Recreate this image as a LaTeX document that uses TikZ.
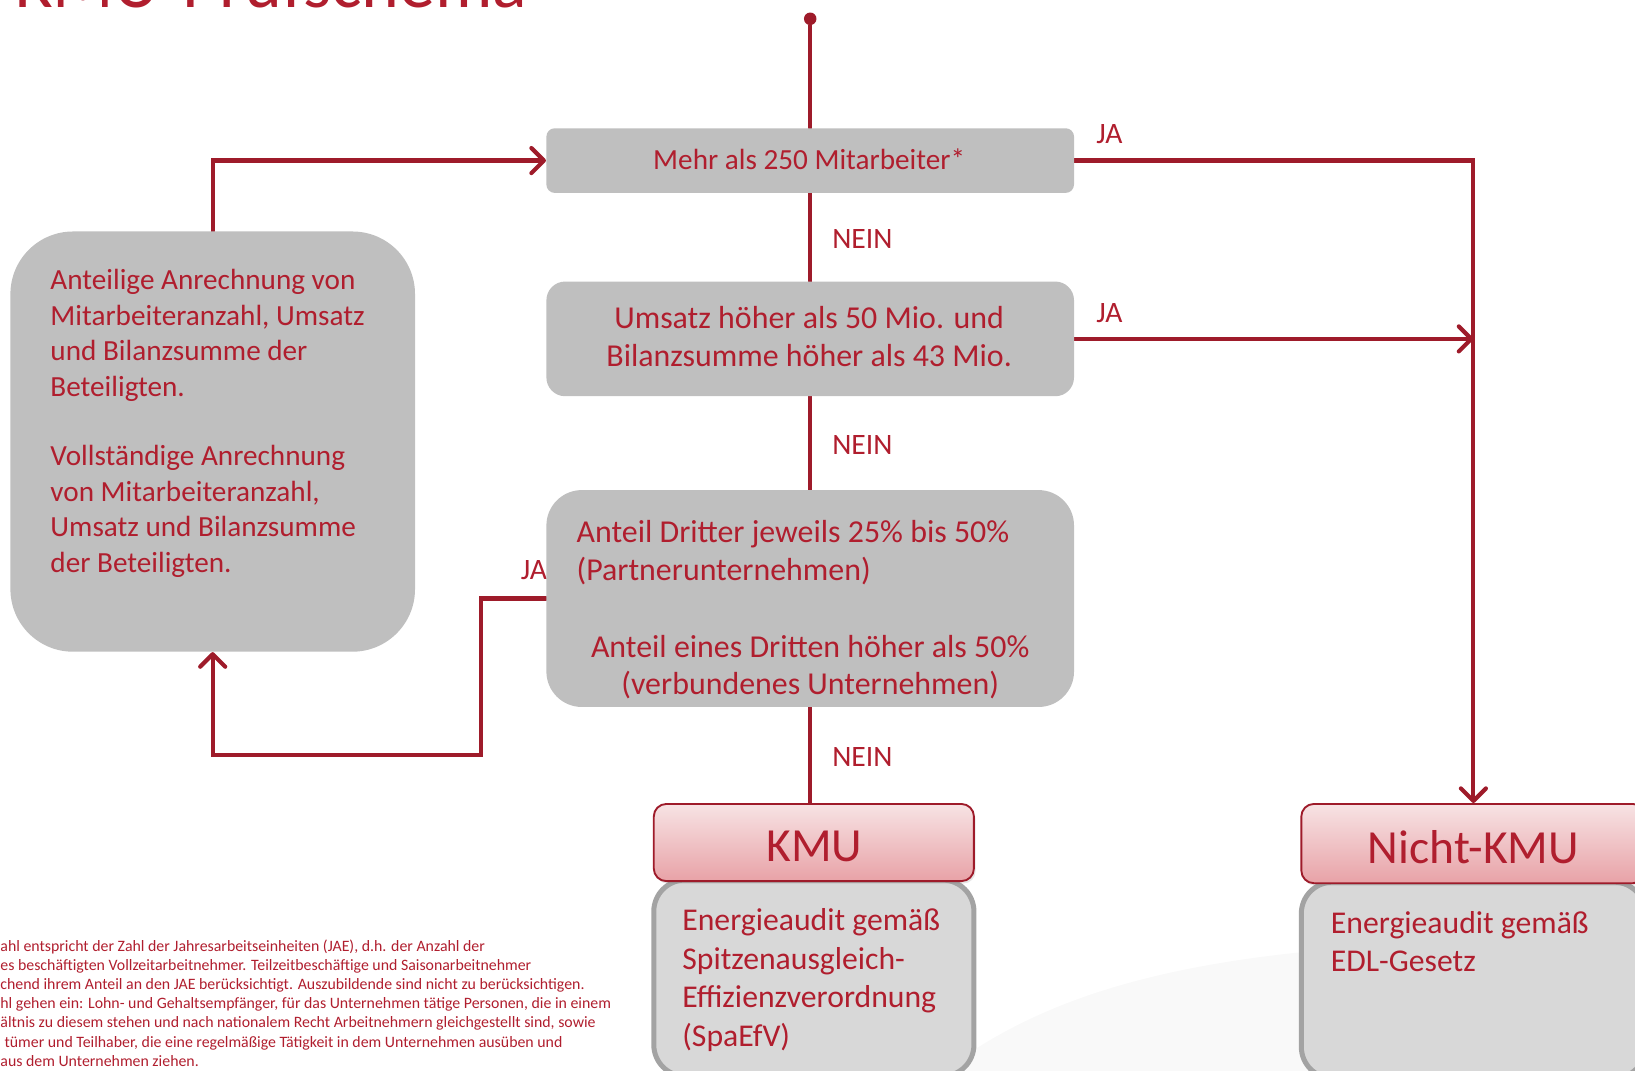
\documentclass[tikz,border=0pt]{standalone}
\usepackage{fontspec}
\setmainfont{Carlito}
\usetikzlibrary{arrows.meta,shadows}
\definecolor{lred}{HTML}{9E1B2A}
\definecolor{tred}{HTML}{B01E2E}
\definecolor{boxg}{HTML}{BFBFBF}
\definecolor{bodyg}{HTML}{D8D8D8}
\definecolor{bodyb}{HTML}{A3A3A3}
\definecolor{pinkT}{HTML}{F7E3E4}
\definecolor{pinkB}{HTML}{E8A2A7}
\pgfdeclarelayer{bg}
\pgfsetlayers{bg,main}
\tikzset{
  conn/.style={draw=lred, line width=2pt, line cap=round, line join=miter},
  arr/.style={-{Straight Barb[length=6pt,width=12pt,round]}},
  gbox/.style={fill=boxg, inner sep=0pt, draw=none},
  hdr/.style={draw=lred, line width=0.9pt, top color=pinkT, bottom color=pinkB, inner sep=0pt, rounded corners=6pt,
     drop shadow={opacity=0.2, shadow xshift=0.8pt, shadow yshift=-1.2pt}},
  body/.style={draw=bodyb, line width=2.4pt, fill=bodyg, inner sep=0pt, rounded corners=15pt},
  maintxt/.style={text=tred, font=\fontsize{14}{17}\selectfont, inner sep=0pt},
  lbl/.style={text=tred, font=\fontsize{14.2}{16}\selectfont, inner sep=0pt},
}
\begin{document}
\begin{tikzpicture}[x=0.5pt, y=-0.5pt]
\useasboundingbox (0,0) rectangle (1568,1027);
% title (cut by the page edge, as in the original)
\node[anchor=base west, text=tred, inner sep=0pt, font=\fontsize{34.5}{40}\selectfont] (title) at (14,7.5) {KMU-Prüfschema};

% boxes
\node[gbox, minimum width=253pt, minimum height=31pt, rounded corners=4pt] (b1) at (777,154) {};
\node[gbox, minimum width=253pt, minimum height=55pt, rounded corners=9pt] (b2) at (777,325) {};
\node[gbox, minimum width=253pt, minimum height=104pt, rounded corners=17pt] (b3) at (777,574) {};
\node[gbox, minimum width=194pt, minimum height=201.5pt, rounded corners=30pt] (lb) at (204,423.5) {};

\node[body, minimum width=153.5pt, minimum height=94pt] (kb) at (780.5,938) {};
\node[hdr, minimum width=153.5pt, minimum height=37pt] (kh) at (780.5,808) {};
\node[body, minimum width=165pt, minimum height=94pt] (nb) at (1413,940) {};
\node[hdr, minimum width=165pt, minimum height=38pt] (nh) at (1413,809) {};

\node[circle, fill=lred, inner sep=0pt, minimum size=6pt] (start) at (777,18) {};
\coordinate (bend) at (461,724);

\begin{pgfonlayer}{bg}
  % faint background swoosh
  \fill[gray!5] (905,1027) .. controls (975,975) and (1070,930) .. (1260,912) -- (1568,905) -- (1568,1027) -- cycle;
  \draw[conn] (start) -- (b1.north);
  \draw[conn] (b1.south) -- (b2.north);
  \draw[conn] (b2.south) -- (b3.north);
  \draw[conn] (b3.south) -- (b3.south |- kh.north);
  \draw[conn,arr] (b1.east) -| (nh.north);
  \draw[conn,arr] (b2.east) -- (b2.east -| nh.north);
  \draw[conn,arr] (lb.north) |- (b1.west);
  \draw[conn,arr] (b3.west) -| (bend) -| (lb.south);
  \node[lbl] (ja3) at (512,547) {JA};
\end{pgfonlayer}

% texts
\node[maintxt] (t1) at (776,153) {Mehr als 250 Mitarbeiter*};
\node[maintxt, align=center, font=\fontsize{15.3}{18}\selectfont] (t2) at (776,323) {Umsatz höher als 50 Mio. und\\Bilanzsumme höher als 43 Mio.};
\node[maintxt, font=\fontsize{15.3}{18}\selectfont] (t3) at (777,585) {\begin{minipage}{224pt}\raggedright
Anteil Dritter jeweils 25\% bis 50\%\\(Partnerunternehmen)\par\vspace{19pt}\centering
Anteil eines Dritten höher als 50\%\\(verbundenes Unternehmen)\par\end{minipage}};
\node[maintxt, anchor=west, align=left] (tl) at (48,406) {Anteilige Anrechnung von\\Mitarbeiteranzahl, Umsatz\\und Bilanzsumme der\\Beteiligten.\\[16.5pt]Vollständige Anrechnung\\von Mitarbeiteranzahl,\\Umsatz und Bilanzsumme\\der Beteiligten.};

\node[text=tred, inner sep=0pt, font=\fontsize{22.8}{26}\selectfont] (tk) at (781,812) {KMU};
\node[text=tred, inner sep=0pt, font=\fontsize{22.8}{26}\selectfont] (tn) at (1413,812) {Nicht-KMU};
\node[maintxt, anchor=west, align=left, font=\fontsize{15.2}{18.5}\selectfont] (tkb) at (654,940) {Energieaudit gemäß\\Spitzenausgleich-\\Effizienzverordnung\\(SpaEfV)};
\node[maintxt, anchor=west, align=left, font=\fontsize{15.2}{18.5}\selectfont] (tnb) at (1276,903) {Energieaudit gemäß\\EDL-Gesetz};

\node[lbl] (n1) at (827,229) {NEIN};
\node[lbl] (n2) at (827,427) {NEIN};
\node[lbl] (n3) at (827,726) {NEIN};
\node[lbl] (j1) at (1064,129) {JA};
\node[lbl] (j2) at (1064,300) {JA};

% footnote (cut by the page edge, as in the original)
\node[anchor=west, align=left, text=tred, inner sep=0pt, font=\fontsize{7.6}{9.15}\selectfont] (fn) at (0,962) {ahl entspricht der Zahl der Jahresarbeitseinheiten (JAE), d.h. der Anzahl der\\es beschäftigten Vollzeitarbeitnehmer. Teilzeitbeschäftige und Saisonarbeitnehmer\\chend ihrem Anteil an den JAE berücksichtigt. Auszubildende sind nicht zu berücksichtigen.\\hl gehen ein: Lohn- und Gehaltsempfänger, für das Unternehmen tätige Personen, die in einem\\ältnis zu diesem stehen und nach nationalem Recht Arbeitnehmern gleichgestellt sind, sowie\\\hspace*{2pt}tümer und Teilhaber, die eine regelmäßige Tätigkeit in dem Unternehmen ausüben und\\aus dem Unternehmen ziehen.};
\end{tikzpicture}
\end{document}
